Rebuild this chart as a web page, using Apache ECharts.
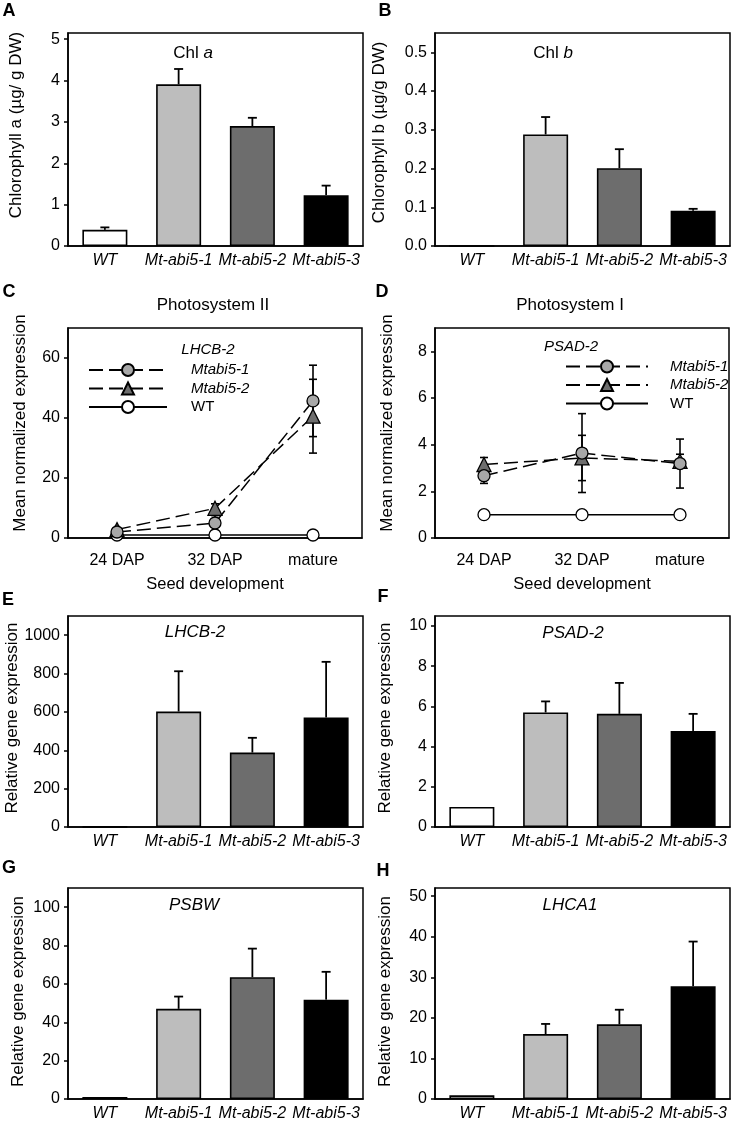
<!DOCTYPE html>
<html><head><meta charset="utf-8">
<script src="https://cdn.jsdelivr.net/npm/echarts@6/dist/echarts.min.js"></script>
<style>html,body{margin:0;padding:0;background:#fff}#c{width:734px;height:1129px}</style>
</head><body><div id="c"></div>
<script>
// ---------- data ----------
const genotypes = ['WT', 'Mt-abi5-1', 'Mt-abi5-2', 'Mt-abi5-3'];
const stages = ['24 DAP', '32 DAP', 'mature'];

const chlA = [0.39, 3.91, 2.90, 1.23];
const chlAErr = [0.06, 0.37, 0.20, 0.23];
const chlB = [0, 0.288, 0.201, 0.091];
const chlBErr = [0, 0.045, 0.049, 0.005];

const lhcb2Mt1 = [2.0, 5.0, 45.7];
const lhcb2Mt1Err = [0.5, 2.5, 11.9];
const lhcb2Mt2 = [2.8, 9.9, 40.6];
const lhcb2Mt2Err = [0.5, 1.5, 12.3];
const lhcb2WT = [1, 1, 1];

const psad2Mt1 = [2.67, 3.64, 3.19];
const psad2Mt1Err = [0.33, 1.69, 1.05];
const psad2Mt2 = [3.15, 3.43, 3.29];
const psad2Mt2Err = [0.30, 0.97, 0.30];
const psad2WT = [1, 1, 1];

const lhcb2Rel = [1, 602, 388, 571];
const lhcb2RelErr = [0, 210, 77, 290];
const psad2Rel = [1.0, 5.70, 5.63, 4.78];
const psad2RelErr = [0, 0.55, 1.54, 0.85];
const psbwRel = [1.1, 47.0, 63.5, 51.8];
const psbwRelErr = [0, 6.4, 14.9, 14.5];
const lhca1Rel = [0.9, 16.0, 18.4, 27.8];
const lhca1RelErr = [0, 2.5, 3.6, 11.0];

const ticksA = [0, 1, 2, 3, 4, 5];
const ticksB = [0, 0.1, 0.2, 0.3, 0.4, 0.5];
const ticksC = [0, 20, 40, 60];
const ticksD = [0, 2, 4, 6, 8];
const ticksE = [0, 200, 400, 600, 800, 1000];
const ticksF = [0, 2, 4, 6, 8, 10];
const ticksG = [0, 20, 40, 60, 80, 100];
const ticksH = [0, 10, 20, 30, 40, 50];

// ---------- style ----------
const FF = "'Liberation Sans', Arial, Helvetica, sans-serif";
const barColors = ['#ffffff', '#bdbdbd', '#6d6d6d', '#000000'];

const grids = [
  {left: 68, top: 33, width: 295, height: 213},
  {left: 435, top: 33, width: 295, height: 213},
  {left: 68, top: 328, width: 294, height: 210},
  {left: 435, top: 328, width: 294, height: 210},
  {left: 68, top: 616, width: 295, height: 211},
  {left: 435, top: 616, width: 295, height: 211},
  {left: 68, top: 888, width: 295, height: 211},
  {left: 435, top: 888, width: 295, height: 211}
].map(g => Object.assign({show: true, borderColor: '#000', borderWidth: 1.5, backgroundColor: 'transparent'}, g));

const xAxis = [], yAxis = [], series = [];

function errUp(params, api) {
  const i = api.value(0), v = api.value(1), e = api.value(2);
  if (!e) return null;
  const p0 = api.coord([i, v]), p1 = api.coord([i, v + e]);
  const hw = 4.5;
  return {type: 'group', children: [
    {type: 'line', shape: {x1: p0[0], y1: p0[1], x2: p1[0], y2: p1[1]}, style: {stroke: '#000', lineWidth: 1.8}},
    {type: 'line', shape: {x1: p1[0] - hw, y1: p1[1], x2: p1[0] + hw, y2: p1[1]}, style: {stroke: '#000', lineWidth: 1.8}}
  ]};
}
function errBoth(params, api) {
  const i = api.value(0), v = api.value(1), e = api.value(2);
  if (!e) return null;
  const p0 = api.coord([i, v - e]), p1 = api.coord([i, v + e]);
  const hw = 4;
  return {type: 'group', children: [
    {type: 'line', shape: {x1: p0[0], y1: p0[1], x2: p1[0], y2: p1[1]}, style: {stroke: '#000', lineWidth: 1.6}},
    {type: 'line', shape: {x1: p1[0] - hw, y1: p1[1], x2: p1[0] + hw, y2: p1[1]}, style: {stroke: '#000', lineWidth: 1.6}},
    {type: 'line', shape: {x1: p0[0] - hw, y1: p0[1], x2: p0[0] + hw, y2: p0[1]}, style: {stroke: '#000', lineWidth: 1.6}}
  ]};
}

function addAxes(idx, cats, italic, ticks, max, fmt, yName, nameGap, namePad, xName) {
  xAxis.push({
    gridIndex: idx, type: 'category', data: cats,
    axisLine: {lineStyle: {color: '#000', width: 1.5}},
    axisTick: {alignWithLabel: true, length: 4, lineStyle: {color: '#000', width: 1.5}},
    axisLabel: {color: '#000', fontSize: 16, fontFamily: FF, fontStyle: italic ? 'italic' : 'normal', margin: xName ? 15 : 7, interval: 0},
    name: xName || '', nameLocation: 'middle', nameGap: 38,
    nameTextStyle: {color: '#000', fontSize: 16.5, fontFamily: FF}
  });
  yAxis.push({
    gridIndex: idx, type: 'value', min: 0, max: max,
    splitLine: {show: false},
    axisLine: {show: true, lineStyle: {color: '#000', width: 1.5}},
    axisTick: {show: true, length: 4, customValues: ticks, lineStyle: {color: '#000', width: 1.5}},
    axisLabel: {customValues: ticks, formatter: fmt, color: '#000', fontSize: 16, fontFamily: FF, margin: 8},
    name: yName, nameLocation: 'middle', nameGap: nameGap,
    nameTextStyle: {color: '#000', fontSize: 17, fontFamily: FF, padding: [0, 0, 0, namePad]}
  });
}

function barPanel(idx, vals, errs, ticks, max, fmt, yName, nameGap, namePad) {
  addAxes(idx, genotypes, true, ticks, max, fmt, yName, nameGap, namePad);
  series.push({
    type: 'bar', xAxisIndex: idx, yAxisIndex: idx, barWidth: 45, silent: true,
    data: vals.map((v, i) => ({value: v, itemStyle: {color: barColors[i]}})),
    itemStyle: {borderColor: '#000', borderWidth: 1.6}
  });
  series.push({
    type: 'custom', xAxisIndex: idx, yAxisIndex: idx, z: 3, silent: true,
    data: vals.map((v, i) => [i, v, errs[i]]), renderItem: errUp
  });
}

const lineDefs = {
  'Mtabi5-1': {symbol: 'circle', symbolSize: 12, fill: '#a8a8a8', dash: [14, 6]},
  'Mtabi5-2': {symbol: 'triangle', symbolSize: 14, fill: '#6e6e6e', dash: [14, 6]},
  'WT': {symbol: 'circle', symbolSize: 12, fill: '#ffffff', dash: 'solid'}
};
function linePanel(idx, sets, ticks, max, yName, nameGap, namePad) {
  addAxes(idx, stages, false, ticks, max, v => String(v), yName, nameGap, namePad, 'Seed development');
  sets.forEach(([name, vals, errs]) => {
    const d = lineDefs[name];
    if (errs) {
      series.push({
        type: 'custom', xAxisIndex: idx, yAxisIndex: idx, z: 1, silent: true,
        data: vals.map((v, i) => [i, v, errs[i]]), renderItem: errBoth
      });
    }
    series.push({
      type: 'line', name: name, xAxisIndex: idx, yAxisIndex: idx, z: 2, silent: true,
      data: vals, symbol: d.symbol, symbolSize: d.symbolSize, showAllSymbol: true,
      lineStyle: {color: '#000', width: 1.5, type: d.dash},
      itemStyle: {color: d.fill, borderColor: '#000', borderWidth: 1.3}
    });
  });
}

barPanel(0, chlA, chlAErr, ticksA, 5.15, v => String(v), 'Chlorophyll a (\u00b5g/ g DW)', 43, 29);
barPanel(1, chlB, chlBErr, ticksB, 0.55, v => v.toFixed(1), 'Chlorophyll b (\u00b5g/g DW)', 47, 14);
linePanel(2, [['WT', lhcb2WT, null], ['Mtabi5-2', lhcb2Mt2, lhcb2Mt2Err], ['Mtabi5-1', lhcb2Mt1, lhcb2Mt1Err]], ticksC, 70, 'Mean normalized expression', 39, 20);
linePanel(3, [['WT', psad2WT, null], ['Mtabi5-2', psad2Mt2, psad2Mt2Err], ['Mtabi5-1', psad2Mt1, psad2Mt1Err]], ticksD, 9, 'Mean normalized expression', 39, 20);
barPanel(4, lhcb2Rel, lhcb2RelErr, ticksE, 1100, v => String(v), 'Relative gene expression', 41, 7);
barPanel(5, psad2Rel, psad2RelErr, ticksF, 10.5, v => String(v), 'Relative gene expression', 41, 7);
barPanel(6, psbwRel, psbwRelErr, ticksG, 110, v => String(v), 'Relative gene expression', 41, 4);
barPanel(7, lhca1Rel, lhca1RelErr, ticksH, 52, v => String(v), 'Relative gene expression', 41, 4);

const legendNames = ['Mtabi5-1', 'Mtabi5-2', 'WT'];
function legendAt(left, top, w, pad) {
  return {
    orient: 'vertical', left: left, top: top, itemWidth: w, itemHeight: 15, itemGap: 3.5,
    selectedMode: false, data: legendNames,
    formatter: n => n === 'WT' ? n : '{i|' + n + '}',
    textStyle: {color: '#000', fontSize: 15, fontFamily: FF, padding: [0, 0, 0, pad],
      rich: {i: {fontStyle: 'italic', fontSize: 15, fontFamily: FF, color: '#000'}}}
  };
}

function txt(x, y, text, font, rich) {
  const style = {text: text, fill: '#000', font: font, align: 'center', verticalAlign: 'middle'};
  if (rich) style.rich = rich;
  return {type: 'text', x: x, y: y, silent: true, style: style};
}
const BOLD = 'bold 18px ' + FF;
const it = size => ({i: {fontStyle: 'italic', fontSize: size, fontFamily: FF, fill: '#000'}});
const graphic = [
  txt(9, 11, 'A', BOLD),
  txt(385, 11, 'B', BOLD),
  txt(9, 292, 'C', BOLD),
  txt(382, 292, 'D', BOLD),
  txt(8, 600, 'E', BOLD),
  txt(383, 597, 'F', BOLD),
  txt(9, 868, 'G', BOLD),
  txt(383, 871, 'H', BOLD),
  txt(193, 53, 'Chl {i|a}', '17px ' + FF, it(17)),
  txt(553, 53, 'Chl {i|b}', '17px ' + FF, it(17)),
  txt(213, 305, 'Photosystem II', '17px ' + FF),
  txt(570, 305, 'Photosystem I', '17px ' + FF),
  txt(208, 350, '{i|LHCB-2}', '15px ' + FF, it(15)),
  txt(571, 347, '{i|PSAD-2}', '15px ' + FF, it(15)),
  txt(195, 632, '{i|LHCB-2}', '17px ' + FF, it(17)),
  txt(573, 633, '{i|PSAD-2}', '17px ' + FF, it(17)),
  txt(194, 905, '{i|PSBW}', '17px ' + FF, it(17)),
  txt(570, 905, '{i|LHCA1}', '17px ' + FF, it(17))
];

const chart = echarts.init(document.getElementById('c'), null, {renderer: 'canvas'});
chart.setOption({
  animation: false,
  backgroundColor: '#fff',
  grid: grids, xAxis: xAxis, yAxis: yAxis, series: series,
  legend: [legendAt(83, 357.5, 78, 19), legendAt(560, 354, 82, 17)],
  graphic: graphic
});
</script></body></html>
